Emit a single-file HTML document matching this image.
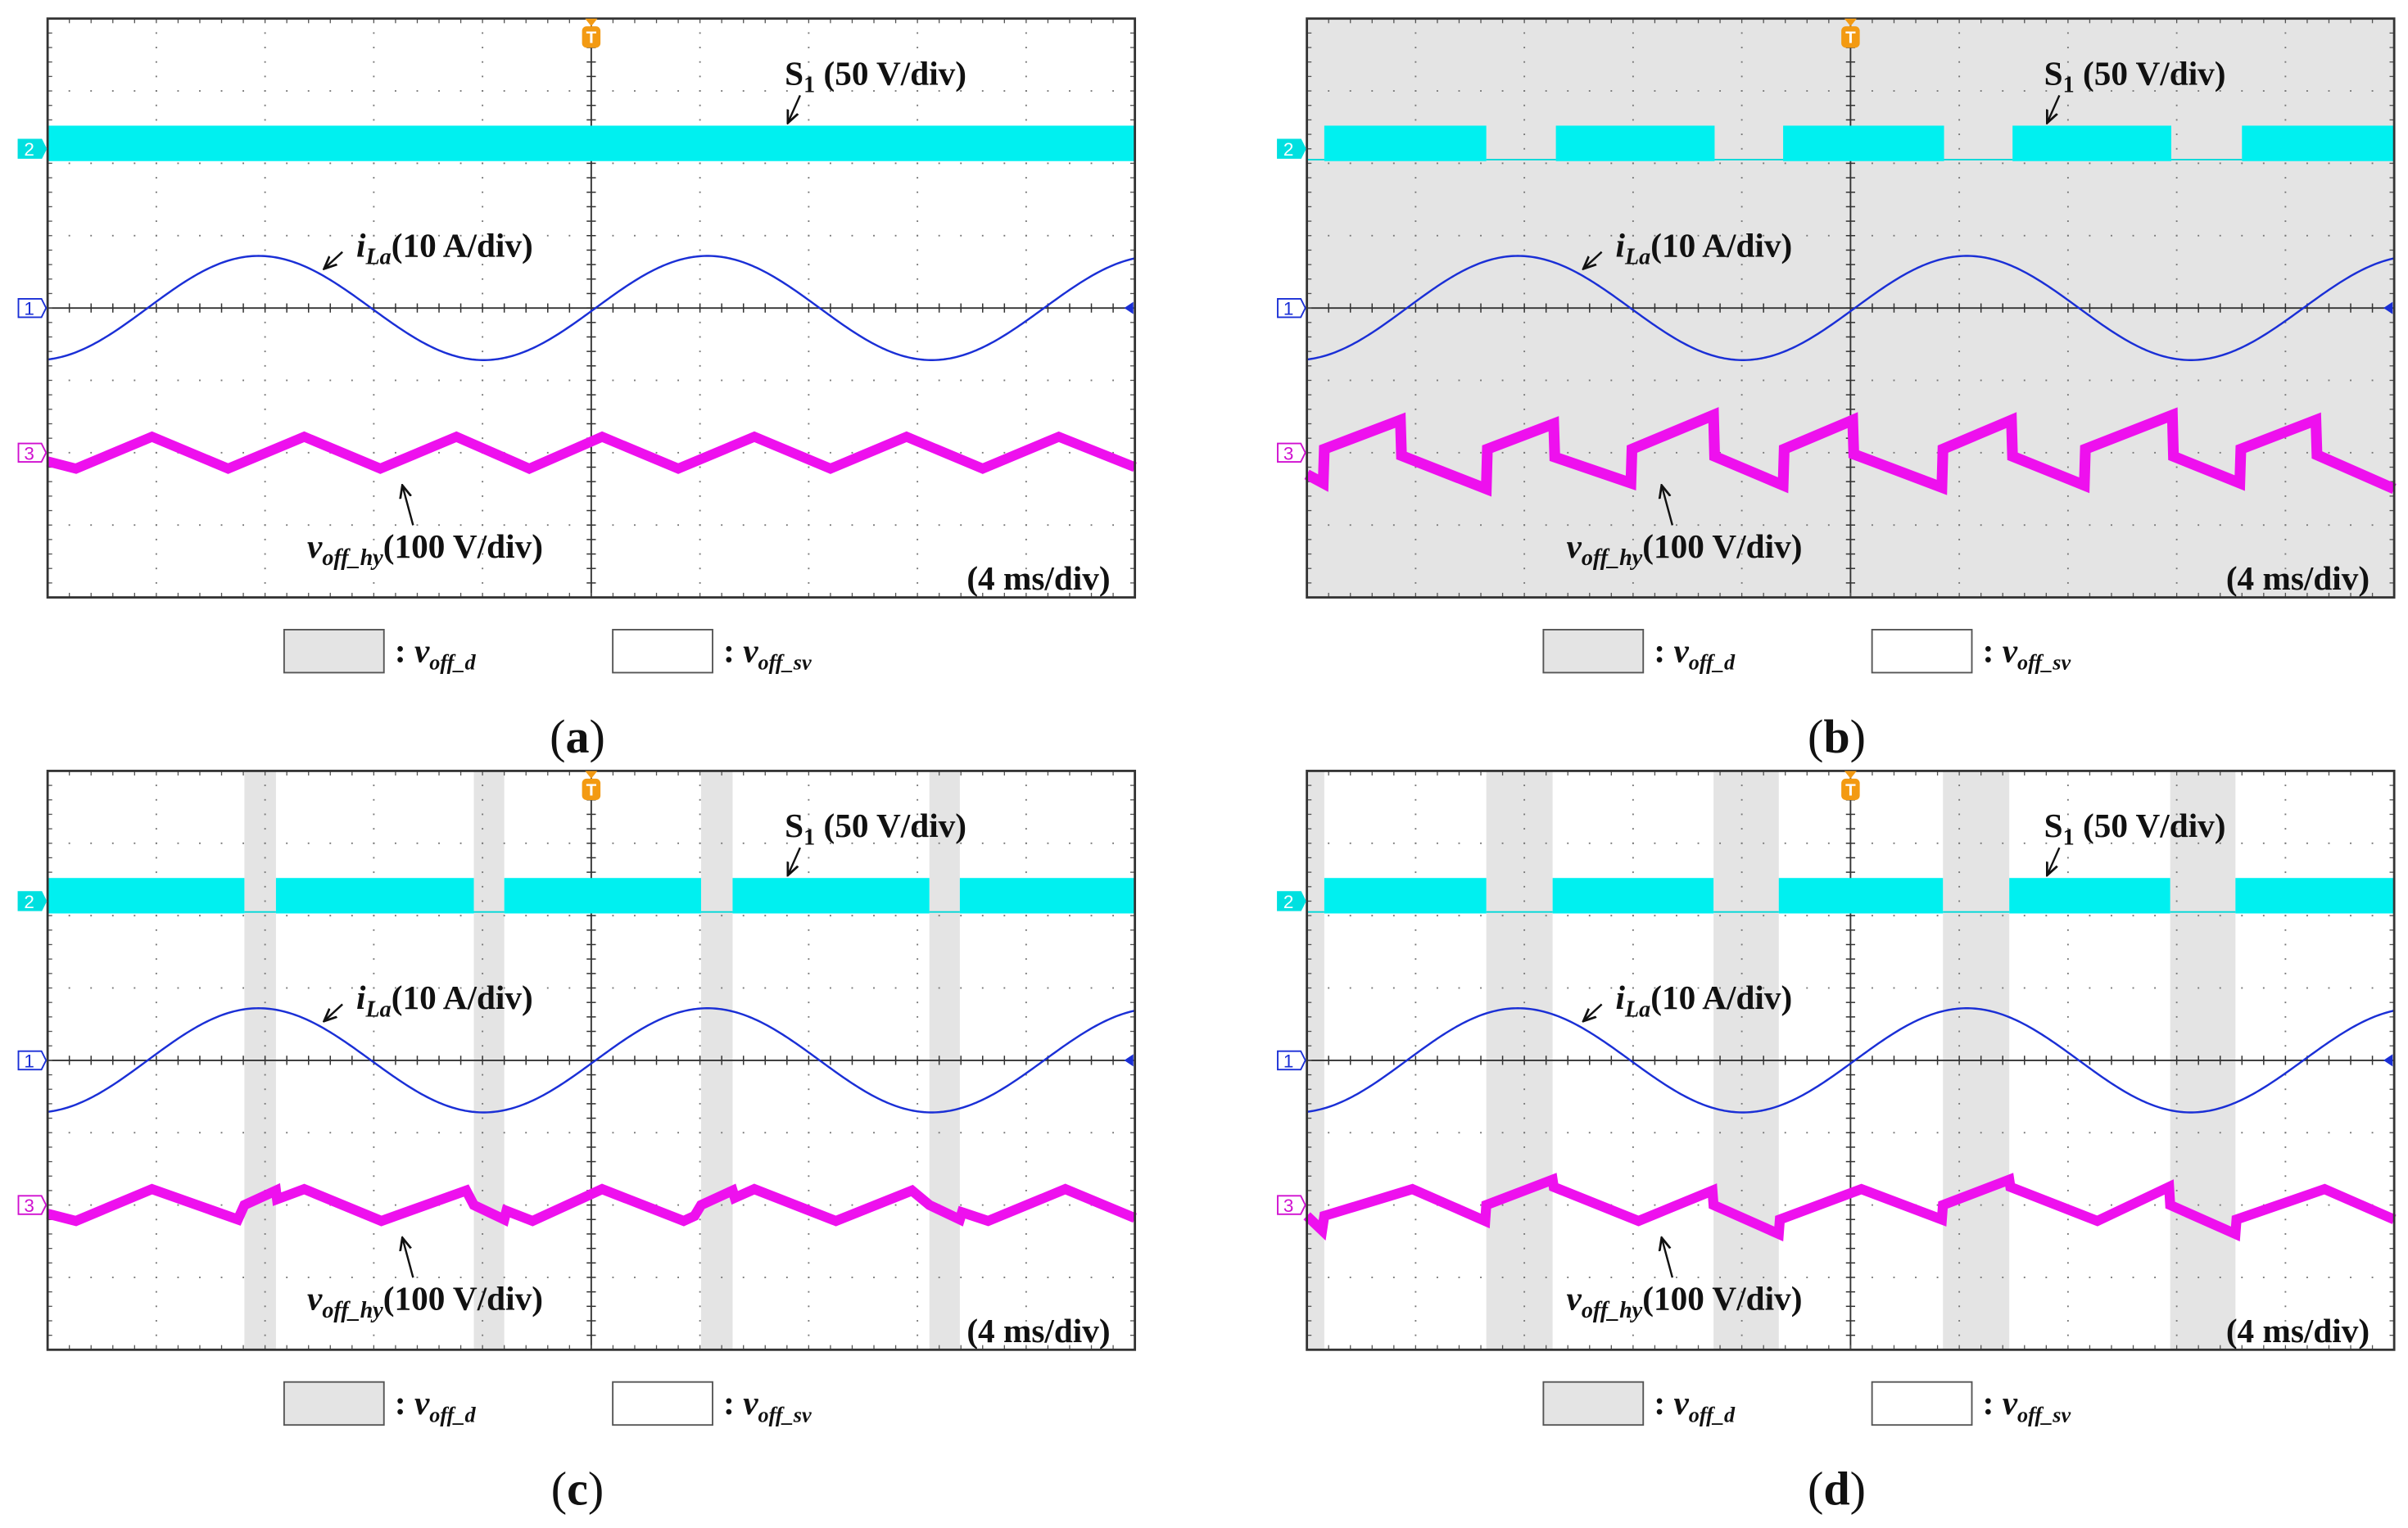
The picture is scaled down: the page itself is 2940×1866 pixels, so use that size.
<!DOCTYPE html>
<html><head><meta charset="utf-8"><style>
html,body{margin:0;padding:0;background:#fff}
svg{display:block}
text{font-family:"Liberation Serif",serif;font-weight:bold;fill:#111}
</style></head><body>
<svg id="fig" xmlns="http://www.w3.org/2000/svg" width="2940" height="1866" viewBox="0 0 1568 995">
<defs><marker id="ah" viewBox="0 0 10 10" refX="9" refY="5" markerWidth="7" markerHeight="7" orient="auto-start-reverse"><path d="M0,1 L9,5 L0,9" fill="none" stroke="#111" stroke-width="1.6"/></marker></defs>
</svg>
<script>
// ---- data (time in divisions 0..10, amplitude in divisions) ----
const panelIds = ['a','b','c','d'];
const shadeA = [];
const shadeB = [[0,10]];
const shadeC = [[1.81,2.10],[3.92,4.20],[6.01,6.30],[8.11,8.39]];
const shadeD = [[0,0.16],[1.65,2.26],[3.74,4.34],[5.85,6.46],[7.94,8.54]];
const gapA = [];
const gapB = [[0,0.16],[1.65,2.29],[3.75,4.38],[5.86,6.49],[7.95,8.6]];
const gapC = [[1.81,2.10],[3.92,4.20],[6.01,6.30],[8.11,8.39]];
const gapD = [[0,0.16],[1.65,2.26],[3.74,4.34],[5.85,6.46],[7.94,8.54]];
const ilaT = [-0.1,1.94,4.01,6.07,8.13,10.2];
const ilaV = [-0.72,0.72,-0.72,0.72,-0.72,0.72];
const voffT_a = [0,0.26,0.96,1.66,2.36,3.06,3.76,4.43,5.1,5.8,6.5,7.2,7.9,8.6,9.3,10];
const voffV_a = [-0.12,-0.22,0.22,-0.22,0.22,-0.22,0.22,-0.22,0.22,-0.22,0.22,-0.22,0.22,-0.22,0.22,-0.2];
const voffT_b = [0,0.15,0.16,0.86,0.87,1.65,1.66,2.27,2.28,2.98,2.99,3.74,3.75,4.38,4.39,5.02,5.03,5.84,5.85,6.48,6.49,7.15,7.16,7.96,7.97,8.58,8.59,9.28,9.29,10];
const voffV_b = [-0.3,-0.42,0.05,0.45,-0.04,-0.5,0.05,0.4,-0.06,-0.42,0.05,0.52,-0.05,-0.45,0.05,0.45,-0.02,-0.48,0.05,0.45,-0.05,-0.45,0.05,0.52,-0.05,-0.42,0.05,0.45,-0.03,-0.5];
const voffT_c = [0,0.26,0.96,1.75,1.81,2.10,2.11,2.36,3.07,3.85,3.92,4.20,4.22,4.46,5.1,5.85,5.95,6.01,6.30,6.32,6.5,7.25,7.95,8.11,8.39,8.41,8.65,9.36,10];
const voffV_c = [-0.12,-0.22,0.22,-0.2,0,0.2,0.08,0.22,-0.22,0.2,0,-0.2,-0.08,-0.22,0.22,-0.22,-0.15,0,0.2,0.1,0.22,-0.22,0.2,0,-0.2,-0.1,-0.22,0.22,-0.18];
const voffT_d = [0,0.14,0.16,0.97,1.64,1.65,2.26,2.27,3.05,3.73,3.74,4.34,4.35,5.1,5.84,5.85,6.46,6.47,7.27,7.93,7.94,8.54,8.55,9.36,10];
const voffV_d = [-0.15,-0.35,-0.15,0.22,-0.22,0,0.35,0.25,-0.22,0.2,0,-0.4,-0.2,0.22,-0.2,0,0.35,0.25,-0.22,0.25,0,-0.4,-0.2,0.22,-0.2];

const shades=[shadeA,shadeB,shadeC,shadeD], gaps=[gapA,gapB,gapC,gapD];
const voffT=[voffT_a,voffT_b,voffT_c,voffT_d], voffV=[voffV_a,voffV_b,voffV_c,voffV_d];
const origins=[[31,12],[851,12],[31,502],[851,502]];
const PW=708, PH=377, DX=PW/10, DY=PH/8;
const CH2=1.8, CH1=4, CH3=6.0;
const NS='http://www.w3.org/2000/svg';
const svg=document.getElementById('fig');
function mk(tag,attrs,parent){const e=document.createElementNS(NS,tag);for(const k in attrs)e.setAttribute(k,attrs[k]);(parent||svg).appendChild(e);return e;}

panelIds.forEach((pid,i)=>{
  const [ox,oy]=origins[i];
  const X=t=>ox+t*DX;
  const Y=(base,v)=>oy+(base-v)*DY;
  const g=mk('g',{});
  
  
  shades[i].forEach((s,k)=>{
    const r=mk('rect',{x:X(s[0]),y:oy,width:X(s[1])-X(s[0]),height:PH,fill:'#e4e4e4'},g);
    
    
  });
  const grid=mk('g',{fill:'#777'},g);
  
  
  for(let c=1;c<10;c++){ if(c===5)continue; for(let k=0;k<=40;k++) mk('rect',{x:X(c)-0.5,y:oy+k*PH/40-0.5,width:1,height:1},grid);}
  for(let r=1;r<8;r++){ if(r===4)continue; for(let k=0;k<=50;k++) mk('rect',{x:ox+k*PW/50-0.5,y:oy+r*DY-0.5,width:1,height:1},grid);}
  mk('line',{x1:X(5),y1:oy,x2:X(5),y2:oy+PH,stroke:'#333','stroke-width':1},g);
  mk('line',{x1:ox,y1:oy+4*DY,x2:ox+PW,y2:oy+4*DY,stroke:'#333','stroke-width':1},g);
  for(let k=0;k<=50;k++){const x=ox+k*PW/50;mk('line',{x1:x,y1:oy+4*DY-3,x2:x,y2:oy+4*DY+3,stroke:'#333','stroke-width':0.8},g);
    mk('line',{x1:x,y1:oy,x2:x,y2:oy+3,stroke:'#555','stroke-width':0.7},g);mk('line',{x1:x,y1:oy+PH-3,x2:x,y2:oy+PH,stroke:'#555','stroke-width':0.7},g);}
  for(let k=0;k<=40;k++){const y=oy+k*PH/40;mk('line',{x1:X(5)-3,y1:y,x2:X(5)+3,y2:y,stroke:'#333','stroke-width':0.8},g);
    mk('line',{x1:ox,y1:y,x2:ox+3,y2:y,stroke:'#555','stroke-width':0.7},g);mk('line',{x1:ox+PW-3,y1:y,x2:ox+PW,y2:y,stroke:'#555','stroke-width':0.7},g);}
  const on=[];let prev=0;
  gaps[i].forEach(gp=>{if(gp[0]>prev)on.push([prev,gp[0]]);prev=gp[1];});
  if(prev<10)on.push([prev,10]);
  on.forEach(s=>{const r=mk('rect',{x:X(s[0]),y:Y(CH2,0.32),width:X(s[1])-X(s[0]),height:Y(CH2,-0.17)-Y(CH2,0.32),fill:'#00f0f0'},g);
    
    });
  gaps[i].forEach(gp=>{const l=mk('line',{x1:X(gp[0]),y1:Y(CH2,-0.15),x2:X(gp[1]),y2:Y(CH2,-0.15),stroke:'#00d8d8','stroke-width':1},g);
    
    });
  let pts=[];
  for(let t=0;t<=10.0001;t+=0.02){
    let j=0;while(j<ilaT.length-2&&t>ilaT[j+1])j++;
    const f=(t-ilaT[j])/(ilaT[j+1]-ilaT[j]);
    const v=ilaV[j]+(ilaV[j+1]-ilaV[j])*(1-Math.cos(Math.PI*f))/2;
    pts.push(X(t).toFixed(2)+','+Y(CH1,v).toFixed(2));
  }
  const sl=mk('polyline',{points:pts.join(' '),fill:'none',stroke:'#1a2fd6','stroke-width':1.3},g);
  
  
  const mp=voffT[i].map((t,k)=>X(t).toFixed(2)+','+Y(CH3,voffV[i][k]).toFixed(2)).join(' ');
  const ml=mk('polyline',{points:mp,fill:'none',stroke:'#ee10ee','stroke-width':i===1?7:6.5,'stroke-linejoin':'miter'},g);
  
  
  mk('rect',{x:ox,y:oy,width:PW,height:PH,fill:'none',stroke:'#333','stroke-width':1.5},g);
  [[CH2,'2','#00e0e0','#fff','#00e0e0'],[CH1,'1','#fff','#1a2fd6','#1a2fd6'],[CH3,'3','#fff','#d010d0','#d010d0']].forEach(m=>{
    const y=Y(m[0],0);
    const p=mk('path',{d:`M${ox-19},${y-6} L${ox-4},${y-6} L${ox-1},${y} L${ox-4},${y+6} L${ox-19},${y+6} Z`,fill:m[2],stroke:m[4],'stroke-width':1},g);
    
    
    const tx=mk('text',{x:ox-12,y:y+4.5,'text-anchor':'middle','font-size':12,style:'font-family:Liberation Sans,sans-serif;font-weight:normal;fill:'+m[3]},g);tx.textContent=m[1];
  });
  mk('path',{d:`M${ox+PW-7},${Y(CH1,0)} L${ox+PW-1},${Y(CH1,0)-4} L${ox+PW-1},${Y(CH1,0)+4} Z`,fill:'#1a2fd6'},g);
  const tg=mk('g',{},g);
  
  
  mk('path',{d:`M${X(5)-4},${oy} L${X(5)+4},${oy} L${X(5)},${oy+5} Z`,fill:'#f39a12'},tg);
  mk('rect',{x:X(5)-6,y:oy+5,width:12,height:14,rx:3,fill:'#f39a12'},tg);
  const tt=mk('text',{x:X(5),y:oy+16,'text-anchor':'middle','font-size':11,style:'font-family:Liberation Sans,sans-serif;fill:#fff'},tg);tt.textContent='T';
  const fs=22;
  const s1=mk('text',{x:ox+480,y:oy+43,'font-size':fs},g);
  
  
  s1.innerHTML='S<tspan font-size="15" dy="5">1</tspan><tspan dy="-5"> (50 V/div)</tspan>';
  mk('line',{x1:ox+490,y1:oy+50,x2:ox+482,y2:oy+68,stroke:'#111','stroke-width':1.3,'marker-end':'url(#ah)'},g);
  const il=mk('text',{x:ox+201,y:oy+155,'font-size':fs},g);
  
  
  il.innerHTML='<tspan font-style="italic">i</tspan><tspan font-size="15" dy="5" font-style="italic">La</tspan><tspan dy="-5">(10 A/div)</tspan>';
  mk('line',{x1:ox+192,y1:oy+152,x2:ox+180,y2:oy+163,stroke:'#111','stroke-width':1.3,'marker-end':'url(#ah)'},g);
  const vl=mk('text',{x:ox+169,y:oy+351,'font-size':fs},g);
  
  
  vl.innerHTML='<tspan font-style="italic">v</tspan><tspan font-size="15" dy="5" font-style="italic">off_hy</tspan><tspan dy="-5">(100 V/div)</tspan>';
  mk('line',{x1:ox+238,y1:oy+330,x2:ox+231,y2:oy+304,stroke:'#111','stroke-width':1.3,'marker-end':'url(#ah)'},g);
  const ts=mk('text',{x:ox+PW-16,y:oy+372,'font-size':fs,'text-anchor':'end'},g);
  
  
  ts.textContent='(4 ms/div)';
  const lg=mk('g',{},g);
  
  
  const ly=oy+PH+21;
  mk('rect',{x:ox+154,y:ly,width:65,height:28,fill:'#e4e4e4',stroke:'#555','stroke-width':1},lg);
  const l1=mk('text',{x:ox+226,y:ly+21,'font-size':fs},lg);
  
  
  l1.innerHTML=': <tspan font-style="italic">v</tspan><tspan font-size="14" dy="5" font-style="italic">off_d</tspan>';
  mk('rect',{x:ox+368,y:ly,width:65,height:28,fill:'#fff',stroke:'#555','stroke-width':1},lg);
  const l2=mk('text',{x:ox+440,y:ly+21,'font-size':fs},lg);
  
  
  l2.innerHTML=': <tspan font-style="italic">v</tspan><tspan font-size="14" dy="5" font-style="italic">off_sv</tspan>';
  const cap=mk('text',{x:ox+345,y:oy+PH+101,'font-size':31,'text-anchor':'middle',style:'font-weight:normal'},g);
  
  
  cap.innerHTML='(<tspan font-weight="bold">'+pid+'</tspan>)';
});
</script>
</body></html>
